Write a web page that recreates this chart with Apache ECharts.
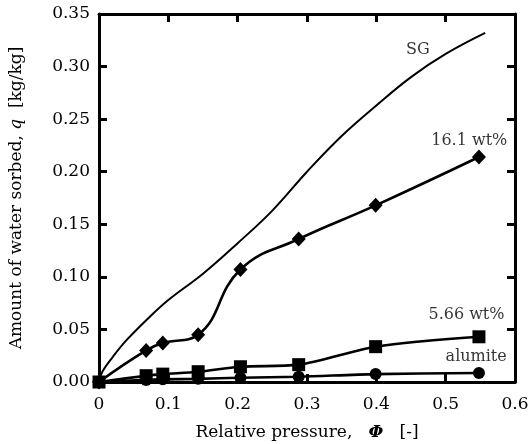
<!DOCTYPE html>
<html><head><meta charset="utf-8">
<script src="https://cdn.jsdelivr.net/npm/echarts@6/dist/echarts.min.js"></script>
<style>html,body{margin:0;padding:0;background:#fff}#c{width:529px;height:444px}</style>
</head><body><div id="c"></div>
<script>
const phi = [0, 0.068, 0.092, 0.143, 0.204, 0.288, 0.399, 0.548];
const q161 = [0, 0.030, 0.037, 0.045, 0.107, 0.136, 0.168, 0.214];
const q566 = [0, 0.006, 0.0075, 0.0098, 0.0145, 0.0165, 0.0336, 0.043];
const qAlumite = [0, 0.002, 0.0025, 0.003, 0.004, 0.005, 0.0075, 0.0085];
const sgPhi = [0, 0.005, 0.02, 0.04, 0.07, 0.1, 0.15, 0.2, 0.25, 0.3, 0.35, 0.4, 0.45, 0.5, 0.557];
const sgQ = [0, 0.01, 0.024, 0.04, 0.06, 0.078, 0.103, 0.132, 0.163, 0.2, 0.234, 0.263, 0.29, 0.312, 0.332];
const labelNames = ['SG', '16.1 wt%', '5.66 wt%', 'alumite'];
const labelPhi = [0.460, 0.534, 0.530, 0.544];
const labelQ = [0.316, 0.229, 0.064, 0.024];

const F = 'DejaVu Serif';
const zip = (a, b) => a.map((v, i) => [v, b[i]]);
const axisLine = {show: true, onZero: false, lineStyle: {color: '#000', width: 3}};
const tick = {show: true, inside: true, length: 8, lineStyle: {color: '#000', width: 3}};
const chart = echarts.init(document.getElementById('c'));
chart.setOption({
  animation: false,
  grid: {left: 99, right: 14, top: 14, bottom: 62, containLabel: false, outerBoundsMode: 'none'},
  xAxis: [{
    type: 'value', min: 0, max: 0.6, interval: 0.1, position: 'bottom',
    axisLine, axisTick: tick, splitLine: {show: false},
    axisLabel: {color: '#000', fontFamily: F, fontSize: 17, margin: 14,
      formatter: v => v === 0 ? '0' : v.toFixed(1)},
    name: '{n|Relative pressure,   }{i|Φ}{n|   [-]}', nameLocation: 'middle', nameGap: 42,
    nameTextStyle: {rich: {n: {fontFamily: F, fontSize: 17, color: '#000'},
      i: {fontFamily: F, fontSize: 17, fontStyle: 'italic', fontWeight: 'bold', color: '#000'}}}
  }, {
    type: 'value', min: 0, max: 0.6, interval: 0.1, position: 'top',
    axisLine, axisTick: tick, axisLabel: {show: false}, splitLine: {show: false}
  }],
  yAxis: [{
    type: 'value', min: 0, max: 0.35, interval: 0.05, position: 'left',
    axisLine, axisTick: tick, splitLine: {show: false},
    axisLabel: {color: '#000', fontFamily: F, fontSize: 17, margin: 9,
      formatter: v => v.toFixed(2)},
    name: '{n|Amount of water sorbed, }{i|q}{n|  [kg/kg]}', nameLocation: 'middle', nameGap: 74,
    nameTextStyle: {rich: {n: {fontFamily: F, fontSize: 17, color: '#000'},
      i: {fontFamily: F, fontSize: 17, fontStyle: 'italic', color: '#000'}}}
  }, {
    type: 'value', min: 0, max: 0.35, interval: 0.05, position: 'right',
    axisLine, axisTick: tick, axisLabel: {show: false}, splitLine: {show: false}
  }],
  series: [
    {type: 'line', data: zip(sgPhi, sgQ), smooth: 0.4, showSymbol: false, symbol: 'none',
      lineStyle: {color: '#000', width: 2}, z: 2},
    {type: 'line', data: zip(phi, qAlumite), smooth: 0.3, symbol: 'circle', symbolSize: 12,
      itemStyle: {color: '#000'}, lineStyle: {color: '#000', width: 2.6}, z: 3},
    {type: 'line', data: zip(phi, q566), smooth: 0.3, symbol: 'rect', symbolSize: 13,
      itemStyle: {color: '#000'}, lineStyle: {color: '#000', width: 2.6}, z: 3},
    {type: 'line', data: zip(phi, q161), smooth: 0.45, symbol: 'diamond', symbolSize: [14, 15],
      itemStyle: {color: '#000'}, lineStyle: {color: '#000', width: 2.6}, z: 4},
    {type: 'scatter', symbolSize: 0, silent: true, z: 5,
      data: labelNames.map((n, i) => ({name: n, value: [labelPhi[i], labelQ[i]]})),
      label: {show: true, position: 'inside', formatter: p => p.name, color: '#000',
        fontFamily: F, fontSize: 16}}
  ]
});
</script></body></html>
